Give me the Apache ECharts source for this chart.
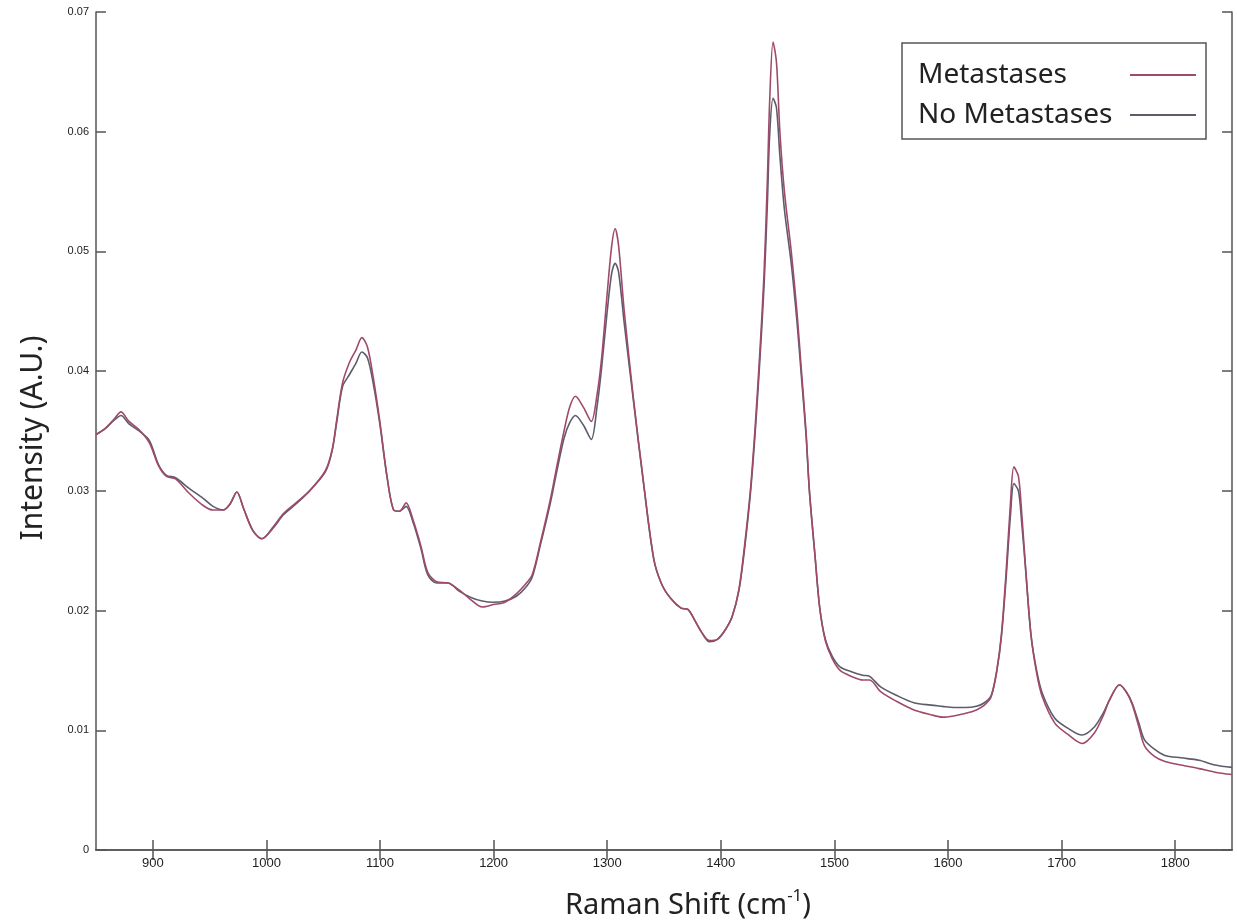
<!DOCTYPE html>
<html>
<head>
<meta charset="utf-8">
<script src="https://cdn.jsdelivr.net/npm/echarts@6/dist/echarts.min.js"></script>
<style>html,body{margin:0;padding:0;background:#fff}#c{width:1237px;height:924px}</style>
</head>
<body>
<div id="c"></div>
<script>
// Raman shift (cm-1)
const ramanShift = [850,858,866,872,879,888,897,905,912,920,932,944,953,962,968,974,980,988,996,1006,1015,1026,1038,1052,1058,1062,1067,1073,1079,1084,1089,1094,1100,1106,1112,1117,1123,1129,1136,1142,1150,1160,1170,1180,1190,1200,1210,1220,1228,1234,1241,1250,1256,1262,1267,1272,1279,1286,1291,1295,1300,1304,1307,1310,1315,1323,1332,1341,1348,1356,1365,1371,1377,1383,1390,1397,1404,1410,1416,1421,1426,1430,1434,1438,1441,1443,1446,1449,1452,1456,1462,1467,1471,1475,1478,1483,1487,1492,1498,1505,1515,1525,1531,1541,1555,1570,1585,1595,1605,1615,1625,1632,1638,1643,1647,1651,1655,1658,1662,1665,1668,1673,1678,1683,1694,1705,1718,1729,1737,1742,1751,1757,1762,1768,1773,1782,1791,1805,1821,1835,1850];
const metastases = [0.0347,0.0352,0.0360,0.0366,0.0358,0.0351,0.0340,0.0321,0.0312,0.0310,0.0298,0.0288,0.0284,0.0284,0.0289,0.0299,0.0285,0.0267,0.0260,0.0270,0.0281,0.0290,0.0300,0.0317,0.0335,0.0360,0.0390,0.0407,0.0418,0.0428,0.0420,0.0395,0.0357,0.0313,0.0284,0.0283,0.0290,0.0276,0.0254,0.0232,0.0224,0.0223,0.0217,0.0209,0.0203,0.0205,0.0207,0.0214,0.0222,0.0230,0.0256,0.0293,0.0322,0.0350,0.0370,0.0379,0.0370,0.0358,0.0380,0.0410,0.0465,0.0505,0.0519,0.0505,0.0450,0.0378,0.0307,0.0243,0.0222,0.0210,0.0202,0.0201,0.0192,0.0182,0.0175,0.0176,0.0184,0.0195,0.0218,0.0255,0.0300,0.0350,0.0410,0.0480,0.0560,0.0625,0.0675,0.0658,0.0600,0.0550,0.0500,0.0450,0.0400,0.0350,0.0300,0.0245,0.0203,0.0175,0.0160,0.0150,0.0145,0.0142,0.0142,0.0132,0.0124,0.0117,0.0113,0.0111,0.0112,0.0114,0.0117,0.0121,0.0128,0.0150,0.0180,0.0230,0.0290,0.0320,0.0312,0.0280,0.0240,0.0180,0.0148,0.0128,0.0106,0.0097,0.0089,0.0098,0.0113,0.0125,0.0138,0.0132,0.0122,0.0103,0.0087,0.0078,0.0074,0.0071,0.0068,0.0065,0.0063];
const noMetastases = [0.0347,0.0352,0.0359,0.0363,0.0356,0.0350,0.0342,0.0322,0.0313,0.0311,0.0302,0.0294,0.0287,0.0284,0.0289,0.0299,0.0285,0.0267,0.0260,0.0269,0.0280,0.0289,0.0300,0.0316,0.0334,0.0358,0.0387,0.0397,0.0407,0.0416,0.0411,0.0390,0.0355,0.0313,0.0284,0.0283,0.0287,0.0274,0.0252,0.0230,0.0223,0.0223,0.0216,0.0211,0.0208,0.0207,0.0208,0.0212,0.0219,0.0228,0.0254,0.0290,0.0318,0.0344,0.0357,0.0363,0.0355,0.0343,0.0370,0.0402,0.0450,0.0482,0.0490,0.0483,0.0440,0.0376,0.0306,0.0243,0.0222,0.0210,0.0202,0.0201,0.0192,0.0182,0.0174,0.0176,0.0184,0.0195,0.0217,0.0252,0.0297,0.0345,0.0403,0.0470,0.0540,0.0597,0.0628,0.0620,0.0580,0.0535,0.0490,0.0442,0.0395,0.0347,0.0300,0.0245,0.0203,0.0176,0.0162,0.0153,0.0149,0.0146,0.0145,0.0136,0.0129,0.0123,0.0121,0.0120,0.0119,0.0119,0.0120,0.0123,0.0129,0.0150,0.0178,0.0225,0.0280,0.0306,0.0300,0.0272,0.0238,0.0180,0.0150,0.0131,0.0110,0.0102,0.0096,0.0103,0.0115,0.0125,0.0138,0.0132,0.0123,0.0106,0.0092,0.0084,0.0079,0.0077,0.0075,0.0071,0.0069];
const xTicks = [900,1000,1100,1200,1300,1400,1500,1600,1700,1800];
const yTickLabels = ['0','0.01','0.02','0.03','0.04','0.05','0.06','0.07'];
const seriesNames = ['Metastases','No Metastases'];

const axisCol = '#555';
const txtCol = '#222';
const font = 'Noto Sans';

const chart = echarts.init(document.getElementById('c'));
const pairs = a => ramanShift.map((x,i)=>[x,a[i]]);
const xBase = {
  type:'value', min:850, max:1850,
  axisLine:{show:true,lineStyle:{color:axisCol,width:1.5}},
  axisTick:{show:true,inside:true,length:10,customValues:xTicks,lineStyle:{color:axisCol,width:1.5}},
  splitLine:{show:false}
};
const yBase = {
  type:'value', min:0, max:0.07, interval:0.01,
  axisLine:{show:true,lineStyle:{color:axisCol,width:1.5}},
  axisTick:{show:true,inside:true,length:10,lineStyle:{color:axisCol,width:1.5}},
  splitLine:{show:false}
};
chart.setOption({
  animation:false,
  backgroundColor:'#fff',
  grid:{left:96,right:5,top:12,bottom:74,containLabel:false,outerBoundsMode:'none'},
  legend:{
    orient:'vertical', left:902, top:43,
    align:'right',
    padding:[18,10,10,16],
    itemGap:12,
    itemWidth:66, itemHeight:2, icon:'rect',
    borderColor:axisCol, borderWidth:1.5,
    backgroundColor:'#fff',
    formatter:n=>'{t|'+n+'}',
    textStyle:{fontFamily:font,fontSize:28,color:txtCol,
      rich:{t:{fontFamily:font,fontSize:28,color:txtCol,width:207,align:'left'}}},
    data:seriesNames
  },
  xAxis:[
    Object.assign({}, xBase, {
      position:'bottom',
      axisLabel:{show:true,fontFamily:'Liberation Sans',fontSize:13,color:txtCol,margin:7,
        customValues:xTicks, formatter:v=>String(v)},
      name:'Raman Shift (cm{sup|-1})', nameLocation:'middle', nameGap:38,
      nameTextStyle:{fontFamily:font,fontSize:29,color:txtCol,lineHeight:36,padding:[0,0,0,48],
        rich:{sup:{fontFamily:font,fontSize:17,color:txtCol,verticalAlign:'top',lineHeight:36}}}
    }),
    Object.assign({}, xBase, {position:'top', axisLabel:{show:false}})
  ],
  yAxis:[
    Object.assign({}, yBase, {
      position:'left',
      axisLabel:{show:true,fontFamily:'Liberation Sans',fontSize:11,color:txtCol,margin:7,
        formatter:v=> yTickLabels[Math.round(v*100)] || ''},
      name:'Intensity (A.U.)', nameLocation:'middle', nameGap:48,
      nameTextStyle:{fontFamily:font,fontSize:30,color:txtCol,padding:[0,14,0,0]}
    }),
    Object.assign({}, yBase, {position:'right', axisLabel:{show:false}})
  ],
  series:[
    {name:seriesNames[1], type:'line', data:pairs(noMetastases), showSymbol:false, smooth:0.3,
     lineStyle:{color:'#5c5c6c',width:1.6}, itemStyle:{color:'#5c5c6c'}},
    {name:seriesNames[0], type:'line', data:pairs(metastases), showSymbol:false, smooth:0.3,
     lineStyle:{color:'#a04a6a',width:1.6}, itemStyle:{color:'#a04a6a'}}
  ]
});
</script>
</body>
</html>
